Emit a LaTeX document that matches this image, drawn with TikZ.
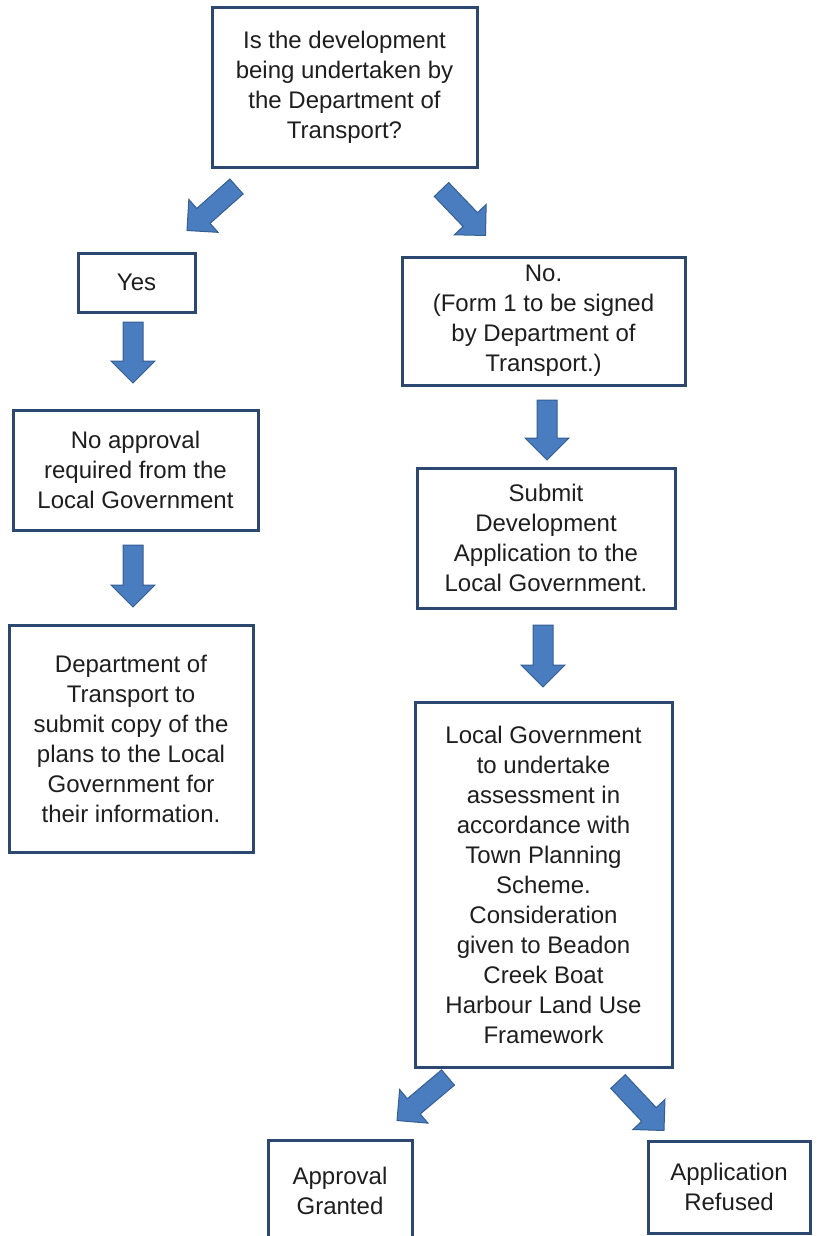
\documentclass[tikz,border=0pt]{standalone}
\usepackage{fontspec}
\setmainfont{Liberation Sans}
\usepackage{xcolor}
\usepackage{tikz}
\usetikzlibrary{calc}

\definecolor{boxline}{HTML}{2C4770}
\definecolor{arrowfill}{HTML}{4A7DBF}
\definecolor{arrowline}{HTML}{365F91}
\definecolor{textgrey}{HTML}{1E1E1E}

\tikzset{
  stepbox/.style={draw=boxline, line width=3pt, fill=white, text=textgrey,
    align=center, inner sep=0pt, font=\fontsize{24}{30}\selectfont},
  blockarrow/.style={draw=arrowline, fill=arrowfill, line width=1pt, line join=miter,
    to path={let \p1=(\tikztostart), \p2=(\tikztotarget),
      \n1={atan2(\y2-\y1,\x2-\x1)}, \n2={veclen(\x2-\x1,\y2-\y1)} in
      ([shift={(\p1)},rotate=\n1]0pt,-10pt)
      -- ([shift={(\p1)},rotate=\n1]{\n2-22pt},-10pt)
      -- ([shift={(\p1)},rotate=\n1]{\n2-22pt},-22pt)
      -- ([shift={(\p1)},rotate=\n1]{\n2},0pt)
      -- ([shift={(\p1)},rotate=\n1]{\n2-22pt},22pt)
      -- ([shift={(\p1)},rotate=\n1]{\n2-22pt},10pt)
      -- ([shift={(\p1)},rotate=\n1]0pt,10pt) -- cycle}}
}

\begin{document}
\begin{tikzpicture}[x=1pt, y=-1pt]

% Page frame
\useasboundingbox[fill=white] (0,0) rectangle (816,1236);

% Question box
\node[stepbox, minimum width=265pt, minimum height=159pt] (question) at (344.5,87.5)
  {Is the development\\being undertaken by\\the Department of\\Transport?};

% Left branch
\node[stepbox, minimum width=117pt, minimum height=59pt] (yes) at (136.5,282.5) {Yes};
\node[stepbox, minimum width=245pt, minimum height=120pt] (noappr) at (135.5,470)
  {No approval\\required from the\\Local Government};
\node[stepbox, minimum width=244pt, minimum height=227pt] (dept) at (131,738.5)
  {Department of\\Transport to\\submit copy of the\\plans to the Local\\Government for\\their information.};

% Right branch
\node[stepbox, minimum width=283pt, minimum height=128pt] (no) at (543.5,321)
  {No.\\(Form 1 to be signed\\by Department of\\Transport.)};
\node[stepbox, minimum width=258pt, minimum height=140pt] (submit) at (546,538)
  {Submit\\Development\\Application to the\\Local Government.};
\node[stepbox, minimum width=257pt, minimum height=365pt] (assess) at (543.5,884.5)
  {Local Government\\to undertake\\assessment in\\accordance with\\Town Planning\\Scheme.\\Consideration\\given to Beadon\\Creek Boat\\Harbour Land Use\\Framework};

% Outcomes
\node[stepbox, minimum width=144pt, minimum height=102pt] (granted) at (340,1191)
  {Approval\\Granted};
\node[stepbox, minimum width=162pt, minimum height=92pt] (refused) at (729,1187)
  {Application\\Refused};

% Block arrows
\draw[blockarrow] ($(question.south west)+(26,18)$) to ($(yes.north)+(50.5,-21)$);
\draw[blockarrow] ($(question.south east)+(-37,21)$) to ($(no.north)+(-58,-20)$);
\draw[blockarrow] ($(yes.south)+(-3.5,8.5)$) to ($(noappr.north)+(-2.5,-25.5)$);
\draw[blockarrow] ($(noappr.south)+(-2.5,13.5)$) to ($(dept.north)+(2,-16.5)$);
\draw[blockarrow] ($(no.south)+(3.5,13.5)$) to ($(submit.north)+(1,-6.5)$);
\draw[blockarrow] ($(submit.south)+(-3,15.5)$) to ($(assess.north)+(-0.5,-13.5)$);
\draw[blockarrow] ($(assess.south)+(-95.5,9)$) to ($(granted.north)+(57,-18)$);
\draw[blockarrow] ($(assess.south)+(74.5,13)$) to ($(refused.north)+(-65,-9)$);

\end{tikzpicture}
\end{document}
